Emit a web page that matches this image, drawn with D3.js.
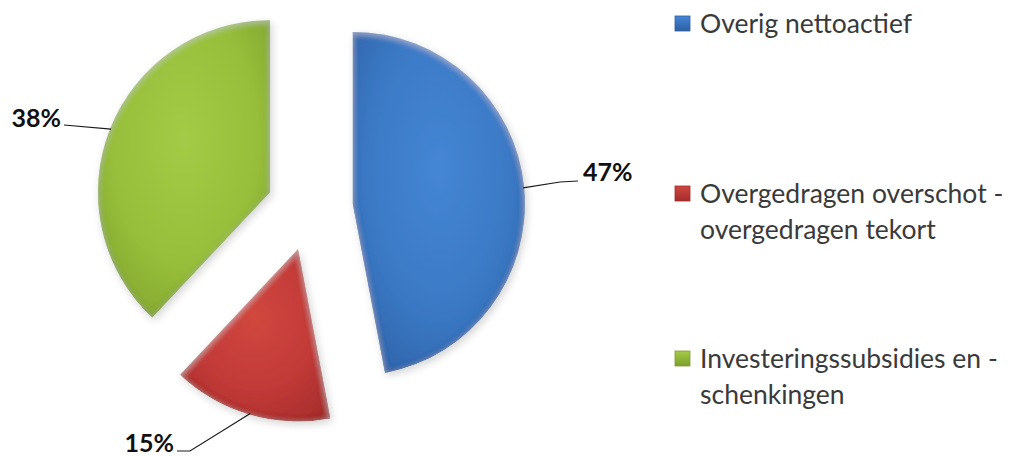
<!DOCTYPE html>
<html>
<head>
<meta charset="utf-8">
<script src="https://cdn.jsdelivr.net/npm/d3@7"></script>
<style>
  html, body { margin: 0; padding: 0; background: #fff; }
  svg { display: block; }
</style>
</head>
<body>
<svg id="chart" width="1013" height="456"></svg>
<script>
// Net assets breakdown (percent shares)
const categories = [
  "Overig nettoactief",
  "Overgedragen overschot - overgedragen tekort",
  "Investeringssubsidies en - schenkingen"
];
const legendLines = [
  ["Overig nettoactief"],
  ["Overgedragen overschot -", "overgedragen tekort"],
  ["Investeringssubsidies en -", "schenkingen"]
];
const values = [47, 15, 38];
const valueLabels = ["47%", "15%", "38%"];
const baseColors = ["#3b79c5", "#c23a38", "#98bf3b"];
const lightColors = ["#4586d4", "#d0473f", "#a4cb46"];
const darkColors = ["#2d5fa3", "#a32c2b", "#7c9f2c"];

const svg = d3.select("#chart");
const cx = 310, cy = 208;
const radius = 172;
const explode = 43;

const defs = svg.append("defs");

// Bevel: darkened rim + soft highlight on the slice surface
const bevel = defs.append("filter").attr("id", "bevel")
  .attr("x", "-10%").attr("y", "-10%").attr("width", "120%").attr("height", "120%");
bevel.append("feGaussianBlur").attr("in", "SourceAlpha").attr("stdDeviation", 3).attr("result", "blur");
bevel.append("feComposite").attr("in", "SourceAlpha").attr("in2", "blur")
  .attr("operator", "arithmetic").attr("k1", 0).attr("k2", 1).attr("k3", -1).attr("k4", 0)
  .attr("result", "rim");
bevel.append("feFlood").attr("flood-color", "#000").attr("flood-opacity", 0.45).attr("result", "dark");
bevel.append("feComposite").attr("in", "dark").attr("in2", "rim").attr("operator", "in").attr("result", "darkRim");
bevel.append("feOffset").attr("in", "blur").attr("dx", 0).attr("dy", 2).attr("result", "blurOff");
bevel.append("feComposite").attr("in", "SourceAlpha").attr("in2", "blurOff")
  .attr("operator", "arithmetic").attr("k1", 0).attr("k2", 1).attr("k3", -1).attr("k4", 0)
  .attr("result", "topRim");
bevel.append("feFlood").attr("flood-color", "#fff").attr("flood-opacity", 0.35).attr("result", "light");
bevel.append("feComposite").attr("in", "light").attr("in2", "topRim").attr("operator", "in").attr("result", "lightRim");
const merge = bevel.append("feMerge");
merge.append("feMergeNode").attr("in", "SourceGraphic");
merge.append("feMergeNode").attr("in", "darkRim");
merge.append("feMergeNode").attr("in", "lightRim");

// Soft shadow under the slices
const shadow = defs.append("filter").attr("id", "shadow")
  .attr("x", "-20%").attr("y", "-20%").attr("width", "140%").attr("height", "140%");
shadow.append("feGaussianBlur").attr("in", "SourceAlpha").attr("stdDeviation", 4).attr("result", "b");
shadow.append("feOffset").attr("in", "b").attr("dx", 2).attr("dy", 3).attr("result", "o");
shadow.append("feComponentTransfer").attr("in", "o").append("feFuncA").attr("type", "linear").attr("slope", 0.18);

// Per-slice gradients
values.forEach((v, i) => {
  const g = defs.append("radialGradient").attr("id", "grad" + i)
    .attr("cx", "50%").attr("cy", "40%").attr("r", "75%");
  g.append("stop").attr("offset", "0%").attr("stop-color", lightColors[i]);
  g.append("stop").attr("offset", "55%").attr("stop-color", baseColors[i]);
  g.append("stop").attr("offset", "100%").attr("stop-color", darkColors[i]);
  const lg = defs.append("linearGradient").attr("id", "lgrad" + i)
    .attr("x1", "0").attr("y1", "0").attr("x2", "0").attr("y2", "1");
  lg.append("stop").attr("offset", "0%").attr("stop-color", lightColors[i]);
  lg.append("stop").attr("offset", "100%").attr("stop-color", darkColors[i]);
});

const pie = d3.pie().sort(null).value(d => d).startAngle(0).endAngle(2 * Math.PI);
const arcs = pie(values);
const arc = d3.arc().innerRadius(0).outerRadius(radius);

function midAngle(d) { return (d.startAngle + d.endAngle) / 2; }
function offsetOf(d) {
  const mid = midAngle(d);
  return [explode * Math.sin(mid), -explode * Math.cos(mid)];
}

const pieG = svg.append("g").attr("transform", `translate(${cx},${cy})`);

pieG.selectAll("path.shadow").data(arcs).join("path")
  .attr("class", "shadow")
  .attr("transform", d => `translate(${offsetOf(d)})`)
  .attr("d", arc)
  .attr("fill", "#000")
  .attr("filter", "url(#shadow)");

pieG.selectAll("path.slice").data(arcs).join("path")
  .attr("class", "slice")
  .attr("transform", d => `translate(${offsetOf(d)})`)
  .attr("d", arc)
  .attr("fill", (d, i) => `url(#grad${i})`)
  .attr("filter", "url(#bevel)");

// Data labels with leader lines from the slice's outer edge
const labelFont = "Lato, 'Open Sans', sans-serif";
const labelPos = [
  { x: 583, y: 181, anchor: "start", path: [[560, 182], [578, 181]] },
  { x: 174, y: 452, anchor: "end", path: [[190, 451], [177, 451]] },
  { x: 61, y: 127, anchor: "end", path: [[64, 125]] }
];

arcs.forEach((d, i) => {
  const [ox, oy] = offsetOf(d);
  const a = midAngle(d);
  const ex = cx + ox + (radius - 1) * Math.sin(a);
  const ey = cy + oy - (radius - 1) * Math.cos(a);
  const spec = labelPos[i];
  svg.append("path")
    .attr("d", d3.line()([[ex, ey], ...spec.path]))
    .attr("fill", "none")
    .attr("stroke", "#1a1a1a")
    .attr("stroke-width", 1.2);
  svg.append("text")
    .attr("x", spec.x).attr("y", spec.y)
    .attr("text-anchor", spec.anchor)
    .attr("font-family", labelFont)
    .attr("font-weight", "bold")
    .attr("font-size", 25)
    .attr("fill", "#111")
    .text(valueLabels[i]);
});

// Legend
const legendBase = [33, 203, 368];
const legend = svg.append("g");
legendLines.forEach((lines, i) => {
  legend.append("rect")
    .attr("x", 675).attr("y", legendBase[i] - 17)
    .attr("width", 15).attr("height", 15)
    .attr("fill", `url(#lgrad${i})`)
    .attr("stroke", darkColors[i]).attr("stroke-width", 0.8);
  const t = legend.append("text")
    .attr("font-family", labelFont)
    .attr("font-size", 26.5)
    .attr("fill", "#3a3a3a");
  lines.forEach((ln, j) => {
    t.append("tspan").attr("x", 700).attr("y", legendBase[i] + j * 36).text(ln);
  });
});
</script>
</body>
</html>
